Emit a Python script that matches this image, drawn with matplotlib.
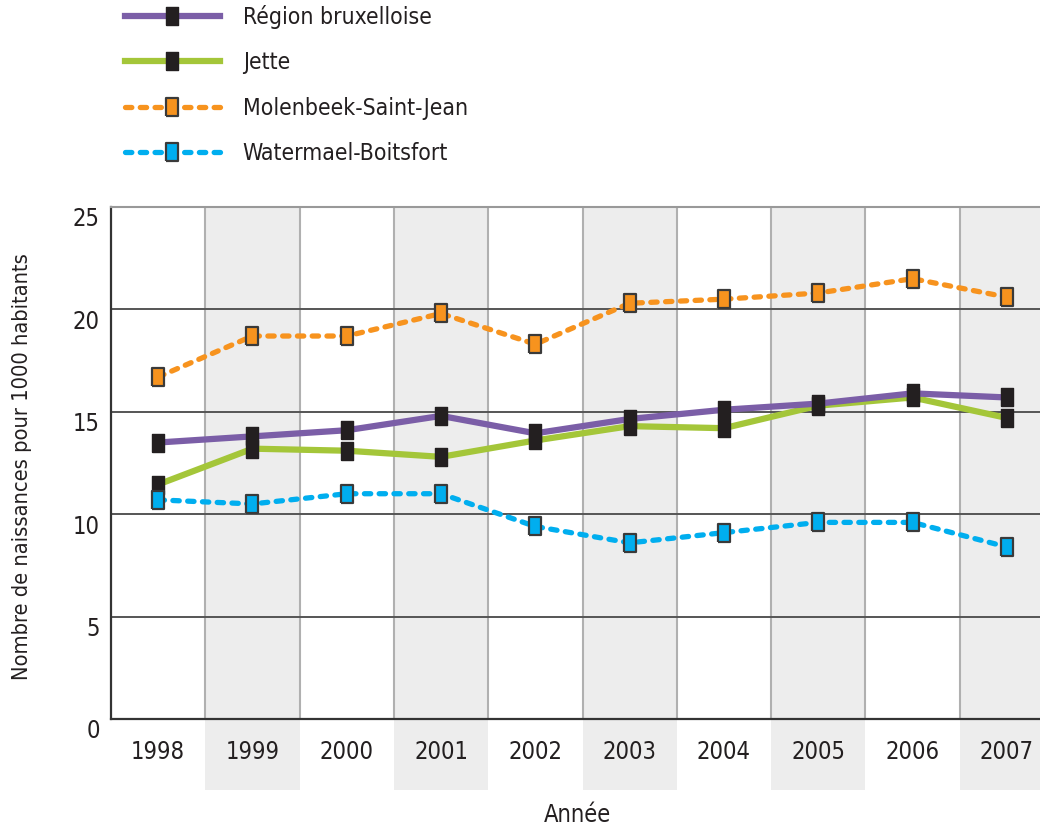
import numpy as np
import matplotlib
matplotlib.use("Agg")
import matplotlib.pyplot as plt
from matplotlib.patches import Rectangle
from matplotlib.transforms import ScaledTranslation

plt.rcParams['font.family'] = ['DejaVu Sans']
plt.rcParams['font.stretch'] = 'condensed'

years = ['1998', '1999', '2000', '2001', '2002', '2003', '2004', '2005', '2006', '2007']
region = [13.5, 13.8, 14.1, 14.8, 13.95, 14.65, 15.1, 15.4, 15.9, 15.7]
jette = [11.45, 13.2, 13.1, 12.8, 13.6, 14.3, 14.2, 15.3, 15.7, 14.7]
molenbeek = [16.7, 18.7, 18.7, 19.8, 18.3, 20.3, 20.5, 20.8, 21.5, 20.6]
watermael = [10.7, 10.5, 11.0, 11.0, 9.4, 8.6, 9.1, 9.6, 9.6, 8.4]

series_names = ['Région bruxelloise', 'Jette', 'Molenbeek-Saint-Jean', 'Watermael-Boitsfort']

W, H = 1040, 827
fig = plt.figure(figsize=(W / 100, H / 100), dpi=100)
# axes extends a bit past the right edge, as in the original
ax = fig.add_axes([111 / W, (H - 719) / H, 943 / W, 512 / H])

x = np.arange(len(years))
ax.set_xlim(-0.5, len(years) - 0.5)
ax.set_ylim(0, 25)

# alternating shaded columns, running down under the tick labels
y_bottom = -71 / 512 * 25
for i in range(1, len(years), 2):
    ax.add_patch(Rectangle((i - 0.5, y_bottom), 1, 25 - y_bottom, facecolor='#ededed',
                           edgecolor='none', clip_on=False, zorder=0))

for i in range(len(years) - 1):
    ax.axvline(i + 0.5, color='#b0b0b0', lw=1.5, zorder=1)
for yv in [5, 10, 15, 20]:
    ax.axhline(yv, color='#555555', lw=1.4, zorder=1)

tall = [(-0.34, -0.5), (0.34, -0.5), (0.34, 0.5), (-0.34, 0.5), (-0.34, -0.5)]

ax.plot(x, region, color='#7b5ea7', lw=4.5, marker=tall, ms=13,
        mfc='#231f20', mec='#231f20', label=series_names[0], zorder=4)
ax.plot(x, jette, color='#a4c639', lw=4.5, marker=tall, ms=13,
        mfc='#231f20', mec='#231f20', label=series_names[1], zorder=3)
ax.plot(x, molenbeek, color='#f7931e', lw=3.8, ls=(0, (1.2, 1.6)), dash_capstyle='round',
        marker=tall, ms=13, mfc='#f7931e', mec='#3a3a3a', mew=1.6,
        label=series_names[2], zorder=3)
ax.plot(x, watermael, color='#00aeef', lw=3.8, ls=(0, (1.2, 1.6)), dash_capstyle='round',
        marker=tall, ms=13, mfc='#00aeef', mec='#3a3a3a', mew=1.6,
        label=series_names[3], zorder=3)

ax.set_xticks(x)
ax.set_xticklabels(years, fontsize=17, color='#231f20')
ax.set_yticks([0, 5, 10, 15, 20, 25])
ax.set_yticklabels(['0', '5', '10', '15', '20', '25'], fontsize=17, color='#231f20')
ax.tick_params(axis='both', length=0)
ax.tick_params(axis='x', pad=15)
ax.tick_params(axis='y', pad=8)
offset = ScaledTranslation(0, -10 / 100, fig.dpi_scale_trans)
for lab in ax.get_yticklabels():
    lab.set_transform(lab.get_transform() + offset)

ax.spines['right'].set_visible(False)
ax.spines['top'].set_color('#999999')
ax.spines['top'].set_linewidth(1.5)
ax.spines['left'].set_color('#333333')
ax.spines['left'].set_linewidth(1.6)
ax.spines['bottom'].set_color('#333333')
ax.spines['bottom'].set_linewidth(1.6)

fig.text(22 / W, 1 - 467 / H, 'Nombre de naissances pour 1000 habitants', rotation=90,
         ha='center', va='center', fontsize=15.7, color='#231f20')
fig.text(577 / W, 1 - 815 / H, 'Année', ha='center', va='center', fontsize=17, color='#231f20')

fig.legend(loc='upper left', bbox_to_anchor=(104 / W, 1 + 16 / H), frameon=False,
           fontsize=16.5, handlelength=4.15, numpoints=1, labelspacing=0.98,
           handletextpad=1.0, labelcolor='#231f20')

fig.savefig('out.png', dpi=100)
